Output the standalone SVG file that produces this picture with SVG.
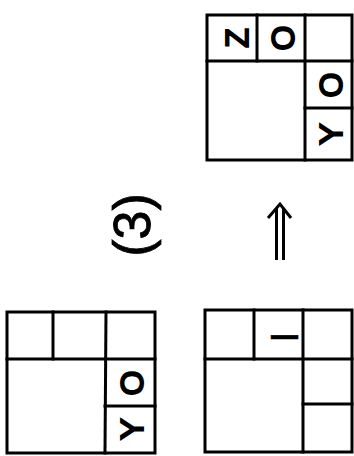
<svg xmlns="http://www.w3.org/2000/svg" width="354" height="456" viewBox="0 0 354 456">
<style>
.g{fill:none;stroke:#000;stroke-width:3;stroke-linecap:square}
.t{font-family:"Liberation Sans",Arial,sans-serif;font-size:32px;font-weight:normal;fill:#000;stroke:#000;stroke-width:2;text-anchor:middle;dominant-baseline:central}
.lbl{font-family:"Liberation Sans",Arial,sans-serif;font-size:52px;fill:#000;stroke:#000;stroke-width:0.8;text-anchor:middle;dominant-baseline:central}
.c{fill:none;stroke:#000;stroke-width:3}
</style>
<rect width="354" height="456" fill="#fff"/>
<g id="grid-top">
<rect class="g" x="207" y="15" width="145" height="145"/>
<line class="g" x1="207" y1="61" x2="352" y2="61"/>
<line class="g" x1="257" y1="15" x2="257" y2="61"/>
<line class="g" x1="305" y1="15" x2="305" y2="160"/>
<line class="g" x1="305" y1="108" x2="352" y2="108"/>
<text class="t" transform="rotate(-90 237 38)" x="237" y="38">Z</text>
<text class="t" transform="rotate(-90 283 38)" x="283" y="38">O</text>
<text class="t" transform="rotate(-90 331 85)" x="331" y="85">O</text>
<text class="t" transform="rotate(-90 331 134)" x="331" y="134">Y</text>
</g>
<g id="grid-bottom-left">
<rect class="g" x="7" y="312" width="148" height="141"/>
<line class="g" x1="7" y1="359" x2="155" y2="359"/>
<line class="g" x1="53" y1="312" x2="53" y2="359"/>
<line class="g" x1="106" y1="312" x2="105" y2="453"/>
<line class="g" x1="105" y1="406" x2="155" y2="406"/>
<text class="t" transform="rotate(-90 132 383)" x="132" y="383">O</text>
<text class="t" transform="rotate(-90 132 429)" x="132" y="429">Y</text>
</g>
<g id="grid-bottom-right">
<rect class="g" x="205" y="310" width="147" height="142"/>
<line class="g" x1="205" y1="359" x2="352" y2="359"/>
<line class="g" x1="254" y1="310" x2="254" y2="359"/>
<line class="g" x1="303" y1="310" x2="303" y2="452"/>
<line class="g" x1="303" y1="404" x2="352" y2="404"/>
<text class="t" transform="rotate(-90 284 337)" x="284" y="337" style="font-size:39px;stroke-width:0.5">I</text>
</g>
<g id="label">
<text class="lbl" transform="rotate(-90 132 225)" x="132" y="225">(3)</text>
</g>
<g id="connectors">
<line class="c" x1="276.5" y1="208" x2="276.5" y2="260"/>
<line class="c" x1="283.5" y1="208" x2="283.5" y2="260"/>
<polyline class="c" points="268,218 280,204 291,218" stroke-linejoin="miter"/>
</g>
</svg>
